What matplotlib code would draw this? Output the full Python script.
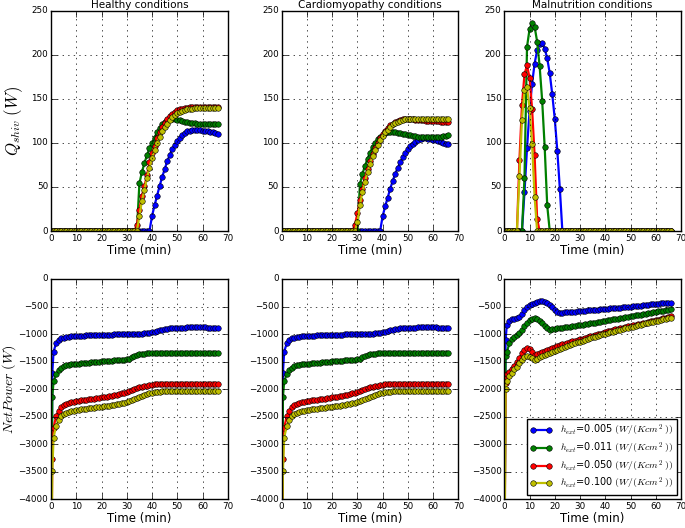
import matplotlib
matplotlib.use('Agg')
import matplotlib.pyplot as plt

# time axes (min)
t_top = list(range(67))
t_bot = [0, 0.5] + list(range(1, 67))

labels = [r'$h_{ext}$=0.005 $(W/(Kcm^2\ ))$',
          r'$h_{ext}$=0.011 $(W/(Kcm^2\ ))$',
          r'$h_{ext}$=0.050 $(W/(Kcm^2\ ))$',
          r'$h_{ext}$=0.100 $(W/(Kcm^2\ ))$']
titles = ['Healthy conditions', 'Cardiomyopathy conditions', 'Malnutrition conditions']

# ---- Q_shiv (W), one value per minute 0..66 ----
healthy_q_005 = [0, 0, 0, 0, 0, 0, 0, 0, 0, 0,
                 0, 0, 0, 0, 0, 0, 0, 0, 0, 0,
                 0, 0, 0, 0, 0, 0, 0, 0, 0, 0,
                 0, 0, 0, 0, 0, 0, 0, 0, 0, 0,
                 17, 29, 40, 51, 61, 70, 79, 86, 93, 98,
                 102, 106, 109, 111, 113, 114, 115, 115, 115, 115,
                 114, 114, 113, 112, 112, 111, 110]
healthy_q_011 = [0, 0, 0, 0, 0, 0, 0, 0, 0, 0,
                 0, 0, 0, 0, 0, 0, 0, 0, 0, 0,
                 0, 0, 0, 0, 0, 0, 0, 0, 0, 0,
                 0, 0, 0, 0, 0, 54, 67, 77, 86, 94,
                 100, 106, 112, 117, 121, 124, 126, 127, 127, 127,
                 126, 126, 125, 124, 124, 123, 123, 123, 122, 122,
                 122, 122, 121, 121, 121, 121, 121]
healthy_q_050 = [0, 0, 0, 0, 0, 0, 0, 0, 0, 0,
                 0, 0, 0, 0, 0, 0, 0, 0, 0, 0,
                 0, 0, 0, 0, 0, 0, 0, 0, 0, 0,
                 0, 0, 0, 0, 7, 24, 40, 51, 63, 78,
                 88, 97, 105, 112, 118, 123, 127, 130, 133, 135,
                 137, 138, 139, 140, 140, 141, 141, 141, 141, 141,
                 141, 141, 141, 141, 141, 141, 141]
healthy_q_100 = [0, 0, 0, 0, 0, 0, 0, 0, 0, 0,
                 0, 0, 0, 0, 0, 0, 0, 0, 0, 0,
                 0, 0, 0, 0, 0, 0, 0, 0, 0, 0,
                 0, 0, 0, 0, 0, 17, 34, 47, 60, 72,
                 83, 92, 100, 107, 113, 118, 122, 126, 129, 132,
                 134, 135, 136, 137, 138, 139, 139, 140, 140, 140,
                 140, 140, 140, 140, 140, 140, 140]

cardio_q_005 = [0, 0, 0, 0, 0, 0, 0, 0, 0, 0,
                0, 0, 0, 0, 0, 0, 0, 0, 0, 0,
                0, 0, 0, 0, 0, 0, 0, 0, 0, 0,
                0, 0, 0, 0, 0, 0, 0, 0, 0, 0,
                17, 28, 38, 48, 57, 65, 72, 78, 84, 89,
                93, 96, 99, 101, 103, 104, 105, 105, 104, 104,
                103, 103, 102, 101, 100, 99, 99]
cardio_q_011 = [0, 0, 0, 0, 0, 0, 0, 0, 0, 0,
                0, 0, 0, 0, 0, 0, 0, 0, 0, 0,
                0, 0, 0, 0, 0, 0, 0, 0, 0, 0,
                0, 53, 65, 74, 82, 89, 95, 100, 104, 107,
                109, 111, 112, 112, 112, 112, 111, 111, 110, 110,
                109, 109, 108, 108, 107, 107, 107, 107, 107, 107,
                107, 107, 107, 107, 108, 108, 109]
cardio_q_050 = [0, 0, 0, 0, 0, 0, 0, 0, 0, 0,
                0, 0, 0, 0, 0, 0, 0, 0, 0, 0,
                0, 0, 0, 0, 0, 0, 0, 0, 0, 7,
                20, 35, 48, 60, 70, 79, 87, 94, 100, 106,
                110, 114, 117, 120, 122, 124, 125, 126, 127, 127,
                127, 127, 127, 126, 126, 126, 126, 125, 125, 125,
                125, 125, 125, 124, 124, 124, 124]
cardio_q_100 = [0, 0, 0, 0, 0, 0, 0, 0, 0, 0,
                0, 0, 0, 0, 0, 0, 0, 0, 0, 0,
                0, 0, 0, 0, 0, 0, 0, 0, 0, 0,
                10, 30, 44, 56, 67, 76, 85, 92, 98, 103,
                108, 112, 115, 118, 121, 123, 124, 125, 126, 127,
                127, 127, 127, 127, 127, 127, 127, 127, 127, 127,
                127, 127, 127, 127, 127, 127, 127]

malnu_q_005 = [0, 0, 0, 0, 0, 0, 0, 0, 44, 94,
               136, 167, 190, 205, 212, 213, 207, 196, 179, 155,
               127, 91, 48, 0, 0, 0, 0, 0, 0, 0,
               0, 0, 0, 0, 0, 0, 0, 0, 0, 0,
               0, 0, 0, 0, 0, 0, 0, 0, 0, 0,
               0, 0, 0, 0, 0, 0, 0, 0, 0, 0,
               0, 0, 0, 0, 0, 0, 0]
malnu_q_011 = [0, 0, 0, 0, 0, 0, 0, 0, 60, 209,
               229, 236, 232, 215, 187, 148, 95, 29, 0, 0,
               0, 0, 0, 0, 0, 0, 0, 0, 0, 0,
               0, 0, 0, 0, 0, 0, 0, 0, 0, 0,
               0, 0, 0, 0, 0, 0, 0, 0, 0, 0,
               0, 0, 0, 0, 0, 0, 0, 0, 0, 0,
               0, 0, 0, 0, 0, 0, 0]
malnu_q_050 = [0, 0, 0, 0, 0, 0, 81, 143, 178, 188,
               174, 139, 86, 14, 0, 0, 0, 0, 0, 0,
               0, 0, 0, 0, 0, 0, 0, 0, 0, 0,
               0, 0, 0, 0, 0, 0, 0, 0, 0, 0,
               0, 0, 0, 0, 0, 0, 0, 0, 0, 0,
               0, 0, 0, 0, 0, 0, 0, 0, 0, 0,
               0, 0, 0, 0, 0, 0, 0]
malnu_q_100 = [0, 0, 0, 0, 0, 0, 62, 126, 160, 163,
               140, 99, 39, 0, 0, 0, 0, 0, 0, 0,
               0, 0, 0, 0, 0, 0, 0, 0, 0, 0,
               0, 0, 0, 0, 0, 0, 0, 0, 0, 0,
               0, 0, 0, 0, 0, 0, 0, 0, 0, 0,
               0, 0, 0, 0, 0, 0, 0, 0, 0, 0,
               0, 0, 0, 0, 0, 0, 0]

# ---- Net power (W), t = 0, 0.5, 1..66 ----
healthy_np_005 = [-6000, -1700, -1320, -1170, -1110, -1080, -1065, -1055, -1048, -1042, -1038,
                  -1035, -1032, -1030, -1028, -1026, -1024, -1022, -1020, -1018, -1016,
                  -1014, -1012, -1010, -1009, -1008, -1006, -1005, -1004, -1003, -1002,
                  -1000, -999, -998, -997, -996, -994, -992, -989, -985, -978,
                  -968, -956, -944, -932, -922, -913, -905, -898, -893, -889,
                  -886, -884, -882, -881, -880, -880, -880, -880, -880, -880,
                  -880, -880, -881, -881, -882, -882, -883]
healthy_np_011 = [-6000, -2140, -1860, -1730, -1650, -1610, -1585, -1570, -1560, -1552, -1546,
                  -1540, -1535, -1530, -1526, -1522, -1518, -1514, -1510, -1506, -1502,
                  -1498, -1494, -1490, -1486, -1482, -1478, -1474, -1470, -1466, -1462,
                  -1458, -1445, -1415, -1395, -1380, -1370, -1362, -1355, -1350, -1346,
                  -1343, -1341, -1340, -1339, -1338, -1338, -1338, -1338, -1338, -1338,
                  -1338, -1338, -1338, -1338, -1338, -1338, -1338, -1338, -1338, -1338,
                  -1338, -1339, -1339, -1340, -1340, -1340, -1340]
healthy_np_050 = [-6000, -3260, -2700, -2490, -2390, -2330, -2295, -2270, -2252, -2238, -2228,
                  -2220, -2213, -2206, -2199, -2192, -2185, -2178, -2171, -2164, -2157,
                  -2150, -2143, -2136, -2128, -2120, -2110, -2100, -2088, -2075, -2062,
                  -2048, -2030, -2012, -1995, -1980, -1966, -1954, -1943, -1934, -1926,
                  -1920, -1915, -1911, -1908, -1906, -1905, -1904, -1904, -1904, -1904,
                  -1904, -1904, -1904, -1904, -1904, -1904, -1904, -1904, -1904, -1904,
                  -1905, -1905, -1906, -1907, -1908, -1909, -1910]
healthy_np_100 = [-6000, -3480, -2880, -2670, -2560, -2495, -2455, -2430, -2412, -2400, -2390,
                  -2382, -2375, -2368, -2361, -2354, -2348, -2342, -2336, -2330, -2324,
                  -2318, -2312, -2306, -2300, -2293, -2285, -2277, -2268, -2257, -2245,
                  -2232, -2215, -2196, -2176, -2156, -2136, -2118, -2102, -2088, -2076,
                  -2066, -2057, -2050, -2044, -2040, -2036, -2034, -2032, -2031, -2030,
                  -2030, -2030, -2030, -2030, -2030, -2030, -2030, -2030, -2030, -2030,
                  -2030, -2030, -2031, -2031, -2032, -2032, -2033]

# cardiomyopathy net power reads the same as the healthy case
cardio_np_005 = healthy_np_005
cardio_np_011 = healthy_np_011
cardio_np_050 = healthy_np_050
cardio_np_100 = healthy_np_100

malnu_np_005 = [-6000, -1110, -835, -770, -735, -718, -703, -685, -640, -572, -512,
                -474, -447, -427, -414, -408, -408, -418, -440, -475, -515,
                -558, -598, -618, -612, -607, -603, -599, -595, -591, -587,
                -583, -579, -575, -571, -567, -563, -559, -555, -551, -547,
                -543, -539, -535, -531, -527, -523, -519, -515, -511, -507,
                -502, -497, -492, -487, -482, -477, -472, -467, -462, -457,
                -452, -448, -444, -440, -436, -433, -430]
malnu_np_011 = [-6000, -1400, -1330, -1170, -1090, -1050, -1020, -985, -925, -860, -795,
                -745, -722, -716, -725, -755, -800, -850, -895, -918, -912,
                -905, -898, -891, -884, -877, -870, -863, -856, -849, -842,
                -835, -828, -821, -814, -806, -798, -790, -782, -774, -766,
                -758, -750, -742, -734, -726, -718, -710, -702, -694, -686,
                -678, -670, -662, -654, -646, -638, -630, -622, -614, -606,
                -598, -590, -582, -574, -566, -558, -550]
malnu_np_050 = [-6000, -1880, -1730, -1680, -1640, -1580, -1500, -1430, -1350, -1290, -1258,
                -1265, -1320, -1372, -1365, -1345, -1325, -1305, -1285, -1265, -1247,
                -1230, -1216, -1202, -1188, -1174, -1160, -1147, -1134, -1121, -1108,
                -1095, -1082, -1069, -1056, -1043, -1030, -1017, -1004, -991, -978,
                -965, -953, -941, -929, -917, -905, -894, -883, -872, -861,
                -850, -840, -830, -820, -810, -800, -790, -780, -770, -760,
                -750, -738, -727, -715, -704, -692, -680]
malnu_np_100 = [-6000, -1990, -1860, -1760, -1700, -1640, -1590, -1530, -1470, -1420, -1400,
                -1410, -1440, -1465, -1450, -1425, -1400, -1378, -1357, -1337, -1318,
                -1300, -1283, -1266, -1249, -1232, -1216, -1200, -1184, -1168, -1152,
                -1140, -1124, -1108, -1092, -1077, -1062, -1047, -1032, -1018, -1004,
                -990, -978, -966, -954, -942, -930, -918, -907, -896, -885,
                -874, -863, -852, -841, -830, -819, -808, -797, -786, -775,
                -765, -755, -745, -735, -725, -715, -705]

q_sets = [[healthy_q_005, healthy_q_011, healthy_q_050, healthy_q_100],
          [cardio_q_005, cardio_q_011, cardio_q_050, cardio_q_100],
          [malnu_q_005, malnu_q_011, malnu_q_050, malnu_q_100]]
np_sets = [[healthy_np_005, healthy_np_011, healthy_np_050, healthy_np_100],
           [cardio_np_005, cardio_np_011, cardio_np_050, cardio_np_100],
           [malnu_np_005, malnu_np_011, malnu_np_050, malnu_np_100]]

colors = ['b', 'g', 'r', 'y']

plt.style.use('classic')

fig = plt.figure(figsize=(6.85, 5.28))
lefts = [0.0745, 0.4112, 0.7362]
w, h = 0.258, 0.4172


def style_axis(a):
    a.set_xlim(0, 70)
    a.grid(True)
    a.set_xlabel('Time (min)', fontsize=8.5, labelpad=1)
    a.tick_params(labelsize=6.3, pad=2)


for col in range(3):
    # top row: shivering heat
    ax = fig.add_axes([lefts[col], 0.5625, w, h])
    for ser, c, lab in zip(q_sets[col], colors, labels):
        ax.plot(t_top, ser, '-o', color=c, lw=1.6, ms=4, mec='k', mew=0.4, label=lab)
    ax.set_ylim(0, 250)
    style_axis(ax)
    ax.set_title(titles[col], fontsize=7.5, pad=2)
    if col == 0:
        ax.set_ylabel(r'$Q_{shiv}\ (W)$', fontsize=12, labelpad=5)

    # bottom row: net power
    ax2 = fig.add_axes([lefts[col], 0.0544, w, h])
    for ser, c, lab in zip(np_sets[col], colors, labels):
        ax2.plot(t_bot, ser, '-o', color=c, lw=1.6, ms=4, mec='k', mew=0.4, label=lab)
    ax2.set_ylim(-4000, 0)
    ax2.set_yticks(range(-4000, 1, 500))
    style_axis(ax2)
    if col == 0:
        ax2.set_ylabel(r'$NetPower\ (W)$', fontsize=10, labelpad=0)
    if col == 2:
        ax2.legend(loc='lower right', fontsize=7, numpoints=2, handlelength=2.2,
                   borderaxespad=0.4, labelspacing=0.25)

fig.savefig('out.png', dpi=100)
